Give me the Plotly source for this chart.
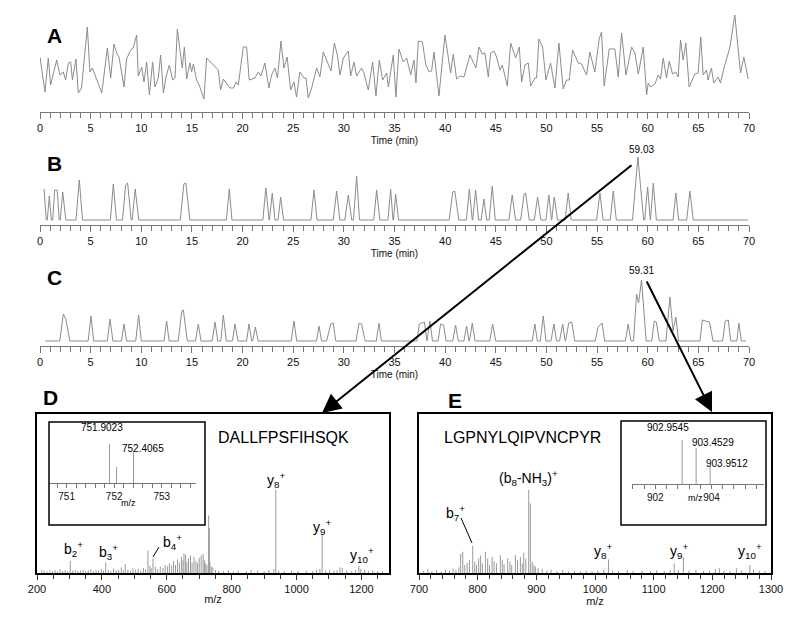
import plotly.graph_objects as go

W, H = 800, 623
OFF = 8  # the page body keeps its default 8 px margin

# ---------------- data ----------------
# A: total ion chromatogram (relative signal)
a_time = [
    0, 0.49, 0.82, 1.05, 1.65, 1.97, 2.3, 2.53, 2.8, 3.03,
    3.2, 3.55, 3.78, 4.1, 4.67, 4.93, 5.17, 5.92, 6.1, 6.65,
    6.98, 7.3, 7.57, 7.8, 8.3, 8.55, 8.95, 9.2, 9.54, 9.7,
    10.04, 10.27, 10.53, 10.8, 11.12, 11.35, 11.68, 11.91, 12.18, 12.44,
    12.77, 13.1, 13.33, 13.56, 13.82, 14.05, 14.25, 14.48, 14.8, 14.97,
    15.14, 15.46, 15.79, 16.19, 16.45, 17.6, 17.83, 18.1, 18.75, 19.1,
    19.35, 19.58, 20.07, 20.4, 20.66, 21.22, 21.55, 21.81, 22.2, 22.6,
    22.86, 23.2, 23.45, 23.79, 24.08, 24.4, 24.74, 25.07, 25.33, 25.66,
    26.06, 26.26, 26.49, 26.82, 27.31, 27.64, 27.97, 28.46, 28.73, 29.06,
    29.36, 29.62, 29.95, 30.44, 30.67, 31.0, 31.26, 31.75, 31.98, 32.41,
    32.84, 33.17, 33.5, 33.83, 34.22, 34.39, 34.88, 35.14, 35.44, 35.87,
    36.2, 36.6, 36.92, 37.12, 37.35, 37.75, 38.1, 38.43, 38.66, 38.9,
    39.39, 39.98, 40.54, 40.8, 41.13, 41.46, 41.86, 42.45, 43.04, 43.34,
    43.67, 43.93, 44.26, 44.49, 44.82, 45.08, 45.41, 45.64, 46.14, 46.47,
    46.96, 47.32, 47.55, 47.88, 48.21, 48.44, 48.87, 49.03, 49.26, 49.62,
    49.95, 50.41, 50.84, 51.23, 51.66, 51.99, 52.25, 52.58, 53.14, 53.47,
    53.96, 54.29, 54.78, 55.21, 55.44, 55.7, 56.2, 56.76, 57.09, 57.42,
    57.85, 58.41, 58.74, 59.07, 59.56, 59.89, 60.05, 60.28, 60.71, 61.04,
    61.27, 61.53, 61.86, 62.12, 62.45, 62.78, 63.01, 63.24, 63.5, 63.76,
    64.09, 64.65, 64.98, 65.24, 65.47, 65.8, 65.96, 66.29, 66.52, 66.95,
    67.18, 67.61, 68.1, 68.6, 69.16, 69.49, 69.92]
a_signal = [
    55, 20, 54, 27, 52, 37, 40, 32, 49, 50,
    32, 53, 19, 24, 85, 40, 44, 22, 19, 64,
    34, 68, 59, 55, 25, 53, 62, 64, 77, 36,
    45, 30, 50, 17, 50, 25, 34, 57, 19, 35,
    47, 32, 34, 83, 62, 44, 65, 33, 49, 40,
    48, 32, 25, 13, 54, 42, 22, 33, 24, 24,
    30, 27, 65, 65, 32, 34, 40, 36, 49, 24,
    37, 44, 34, 71, 44, 55, 22, 30, 15, 40,
    34, 34, 14, 24, 44, 35, 60, 47, 41, 69,
    57, 37, 54, 61, 36, 50, 36, 44, 39, 22,
    50, 16, 52, 32, 39, 25, 57, 15, 63, 50,
    54, 37, 52, 29, 71, 70, 47, 40, 41, 60,
    16, 77, 39, 58, 33, 36, 35, 57, 44, 65,
    58, 59, 35, 59, 61, 55, 42, 47, 26, 69,
    54, 65, 30, 47, 49, 26, 34, 34, 73, 65,
    32, 49, 24, 69, 23, 32, 32, 62, 49, 48,
    37, 60, 40, 73, 80, 26, 63, 63, 35, 79,
    37, 65, 59, 38, 65, 17, 29, 25, 28, 37,
    33, 54, 34, 51, 38, 40, 35, 72, 52, 69,
    25, 38, 39, 75, 37, 42, 32, 44, 29, 35,
    29, 47, 64, 97, 39, 55, 33]

# B: extracted ion chromatogram
b_time = [
    0.4, 0.62, 0.72, 0.92, 1.12, 1.25, 1.45, 1.7, 1.9, 2.0, 2.24, 2.55,
    3.55, 3.88, 4.2, 6.95, 7.24, 7.55, 8.15, 8.45, 8.65, 9.0, 9.1, 9.4, 9.75,
    13.85, 14.2, 14.4, 14.8, 18.4, 18.69, 18.95, 22.0, 22.3, 22.62, 22.65, 22.93, 23.2,
    23.5, 23.76, 24.05, 26.75, 27.05, 27.35, 28.95, 29.29, 29.6, 30.1, 30.44, 30.78,
    30.95, 31.26, 31.55, 32.95, 33.24, 33.55, 34.35, 34.62, 34.85, 34.9, 35.11, 35.4,
    40.4, 40.75, 40.95, 41.35, 42.1, 42.39, 42.68, 42.72, 43.01, 43.3, 43.55, 43.83, 44.1,
    44.35, 44.65, 44.95, 46.3, 46.62, 46.95, 47.45, 47.8, 47.95, 48.3, 48.8, 49.13, 49.45,
    49.95, 50.24, 50.5, 50.52, 50.77, 51.1, 51.85, 52.15, 52.45, 54.95, 55.28, 55.6,
    56.3, 56.6, 56.9, 58.5, 59.03, 59.6, 59.7, 59.99, 60.25, 60.27, 60.55, 60.85,
    62.5, 62.78, 63.05, 63.85, 64.16, 64.5, 69.9]
b_signal = [
    31, 0, 0, 24, 0, 0, 30, 30, 0, 0, 28, 0,
    0, 40, 0, 0, 36, 0, 0, 35, 37, 0, 0, 31, 0,
    0, 36, 37, 0, 0, 31, 0, 0, 32, 0, 0, 27, 0,
    0, 23, 0, 0, 30, 0, 0, 29, 0, 0, 25, 0,
    0, 44, 0, 0, 30, 0, 0, 31, 0, 0, 26, 0,
    0, 28, 29, 0, 0, 31, 0, 0, 30, 0, 0, 21, 0,
    0, 34, 0, 0, 25, 0, 0, 26, 27, 0, 0, 23, 0,
    0, 25, 0, 0, 23, 0, 0, 27, 0, 0, 27, 0,
    0, 29, 0, 0, 63, 0, 0, 33, 0, 0, 37, 0,
    0, 27, 0, 0, 29, 0, 0]

# C: extracted ion chromatogram
c_time = [
    0.5, 1.95, 2.3, 2.55, 2.95, 4.75, 5.04, 5.3, 6.65, 6.91, 7.2,
    8.05, 8.29, 8.55, 9.45, 9.74, 10.0, 12.25, 12.5, 12.75,
    13.65, 14.0, 14.15, 14.55, 15.35, 15.63, 15.9, 17.0, 17.28, 17.55,
    17.85, 18.1, 18.4, 19.0, 19.25, 19.55, 20.4, 20.63, 20.9, 21.0, 21.26, 21.55,
    24.8, 25.07, 25.35, 27.3, 27.55, 27.8, 28.3, 28.7, 28.95, 29.2,
    31.2, 31.5, 31.75, 32.1, 33.2, 33.47, 33.7,
    37.2, 37.45, 37.95, 38.2, 38.5, 38.75, 39.3, 39.55, 39.85, 40.1,
    40.75, 41.03, 41.3, 41.85, 42.12, 42.35, 42.4, 42.68, 42.95, 44.4, 44.69, 45.0,
    48.6, 48.86, 49.1, 49.4, 49.69, 49.95, 50.45, 50.74, 51.0, 51.3, 51.6, 51.85,
    51.9, 52.2, 52.5, 52.8, 54.8, 55.1, 55.5, 55.75, 57.8, 58.07, 58.35,
    58.6, 58.9, 59.1, 59.39, 59.85, 60.4, 60.65, 60.85, 61.15,
    61.8, 62.19, 62.5, 62.78, 63.05, 65.15, 65.4, 65.7, 66.1, 66.45,
    67.4, 67.65, 67.95, 68.2, 68.8, 69.0, 69.25, 69.7]
c_signal = [
    0, 0, 27, 22, 0, 0, 25, 0, 0, 22, 0,
    0, 17, 0, 0, 26, 0, 0, 20, 0,
    0, 30, 31, 0, 0, 17, 0, 0, 19, 0,
    0, 26, 0, 0, 17, 0, 0, 17, 0, 0, 14, 0,
    0, 20, 0, 0, 15, 0, 0, 17, 18, 0,
    0, 18, 17, 0, 0, 18, 0,
    0, 17, 19, 0, 20, 0, 0, 17, 16, 0,
    0, 16, 0, 0, 15, 0, 0, 18, 0, 0, 17, 0,
    0, 17, 0, 0, 25, 0, 0, 17, 0, 0, 17, 0,
    0, 18, 19, 0, 0, 14, 18, 0, 0, 17, 0,
    0, 47, 38, 61, 0, 0, 20, 19, 0,
    0, 44, 10, 24, 0, 0, 21, 20, 19, 0,
    0, 20, 21, 0, 0, 18, 0, 0]

# D: MS/MS spectrum (DALLFPSFIHSQK)
d_mz = [302.6, 411.8, 472, 542, 557.6, 653, 729, 731.5, 936, 1079, 1192]
d_int = [7.5, 6.7, 5.6, 14, 9.2, 12.3, 36, 28, 52, 24, 4.5]
d_noise_mz = [
    215, 222, 231, 240, 248, 256, 263, 271, 279, 287, 295, 310, 318, 326, 334,
    342, 350, 358, 366, 374, 382, 390, 398, 405, 420, 428, 436, 444, 452, 460,
    466, 480, 488, 496, 504, 512, 520, 528, 535, 548, 552, 565, 572, 580, 588,
    595, 602, 608, 615, 621, 627, 633, 639, 645, 650, 658, 662, 667, 673, 678,
    684, 690, 695, 700, 706, 712, 716, 720, 724, 733, 737, 742, 750, 760, 775,
    790, 805, 820, 845, 860, 880, 900, 915, 930, 945, 962, 985, 1005, 1030, 1050,
    1062, 1072, 1090, 1102, 1115, 1125, 1134, 1141, 1155, 1170, 1182, 1198, 1210,
    1222, 1235, 1250, 1265]
d_noise_int = [
    2, 1.5, 1, 2, 1.2, 1.8, 1, 2.5, 1.3, 1.8, 1, 1.5, 2, 1.2, 1.6,
    2.2, 1, 1.8, 2.4, 1.2, 2, 1.5, 2.6, 1.5, 2, 1.2, 2.8, 1.5, 2, 3.5,
    1.6, 2.2, 1.4, 3, 2, 2.6, 1.5, 3.2, 2.4, 4.5, 3, 3.8, 2.5, 4, 3.2,
    5, 4.2, 6, 4.5, 7.5, 5, 8.5, 6.5, 10, 8, 11.5, 7, 9, 11, 6.5,
    10, 7.5, 6, 9.5, 11, 12, 8, 6, 5, 7, 4, 3.5, 2, 1.5, 1.2,
    1.8, 1, 1.5, 1.2, 1.8, 1.5, 1.2, 1.8, 2.5, 1.5, 1.2, 1.6, 1.3, 1.5, 1.2,
    2, 2.5, 1.5, 2, 1.4, 1.8, 3.5, 3, 1.5, 1.2, 1.8, 2.5, 2,
    1.2, 1.8, 1.2, 1]

# E: MS/MS spectrum (LGPNYLQIPVNCPYR)
e_mz = [774.6, 791.6, 801.8, 813.2, 824.6, 838.7, 851.2, 864.3, 872.8, 878.5,
        887, 889.8, 898.3, 1023, 1135, 1150.7, 1264]
e_int = [13.3, 17, 9.2, 13.3, 10, 11.2, 9.2, 11.2, 10, 12.7,
         52, 43.5, 4, 8.5, 6, 9.8, 5]
e_noise_mz = [
    708, 715, 722, 730, 738, 745, 752, 758, 763, 768, 771, 778, 782, 786, 795,
    798, 805, 808, 817, 820, 828, 832, 842, 845, 855, 858, 868, 876, 882, 893,
    896, 903, 910, 918, 925, 935, 945, 955, 965, 975, 985, 995, 1005, 1015, 1030,
    1040, 1055, 1065, 1080, 1095, 1105, 1118, 1128, 1142, 1160, 1172, 1185, 1195,
    1205, 1212, 1220, 1230, 1241, 1250, 1270, 1280, 1290]
e_noise_int = [
    1.5, 2.5, 1.2, 1.8, 1, 2.2, 1.5, 2.8, 2, 3.5, 12, 5, 6.5, 8, 7,
    5, 11, 6, 9, 5, 7.5, 6, 8, 5.5, 7, 5, 8, 6, 9, 7,
    5, 3, 2.5, 1.5, 2, 1.2, 1.8, 1.2, 1.5, 1, 1.4, 1.2, 1.6, 2, 1.5,
    1.2, 1.8, 1.2, 1.5, 1.2, 1.6, 1.3, 1.8, 2, 1.5, 2, 1.2, 1.5,
    2.5, 3, 1.5, 1.2, 3, 1.5, 2, 1.5, 1.2]

# insets: precursor isotope clusters
d_iso_mz = [751.9023, 752.05, 752.4065]
d_iso_int = [39, 16, 32]
e_iso_mz = [902.9545, 903.4529, 903.9512]
e_iso_int = [44, 36, 17.6]


# ---------------- helpers ----------------
def px(x):
    return (x - OFF) / W


def py(y):
    return 1 - (y - OFF) / H


def sticks(mz, inten):
    xs, ys = [], []
    for m, h in zip(mz, inten):
        xs += [m, m, None]
        ys += [0, h, None]
    return xs, ys


FONT = "Liberation Sans, Arial, sans-serif"
NARROW = "Liberation Sans Narrow, Arial Narrow, Liberation Sans, Arial, sans-serif"
TRACE = "#8c8c8c"
AXIS = "#777777"

fig = go.Figure()

fig.add_trace(go.Scatter(x=a_time, y=a_signal, mode="lines", line=dict(color=TRACE, width=1),
                         xaxis="x", yaxis="y"))
fig.add_trace(go.Scatter(x=b_time, y=b_signal, mode="lines", line=dict(color=TRACE, width=1),
                         xaxis="x2", yaxis="y2"))
fig.add_trace(go.Scatter(x=c_time, y=c_signal, mode="lines", line=dict(color=TRACE, width=1),
                         xaxis="x3", yaxis="y3"))

for mz, inten, ax in [(d_noise_mz, d_noise_int, 4), (d_mz, d_int, 4),
                      (e_noise_mz, e_noise_int, 5), (e_mz, e_int, 5),
                      (d_iso_mz, d_iso_int, 6), (e_iso_mz, e_iso_int, 7)]:
    xs, ys = sticks(mz, inten)
    fig.add_trace(go.Scatter(x=xs, y=ys, mode="lines", line=dict(color="#9a9a9a", width=1),
                             xaxis="x%d" % ax, yaxis="y%d" % ax))


def chrom_x(anchor):
    return dict(domain=[px(40), px(749)], range=[0, 70], anchor=anchor, automargin=False,
                showline=True, linecolor=AXIS, linewidth=1,
                ticks="outside", ticklen=6, tickcolor=AXIS, dtick=5, tick0=0,
                minor=dict(dtick=1, ticks="outside", ticklen=5, tickcolor=AXIS),
                showgrid=False, zeroline=False,
                tickfont=dict(family=NARROW, size=11, color="#111"),
                title=dict(text="Time (min)", font=dict(family=NARROW, size=10, color="#111"),
                           standoff=3))


def hidden_y(anchor, bottom, top, rng):
    return dict(domain=[py(bottom), py(top)], range=rng, anchor=anchor, visible=False,
                automargin=False)


def spec_x(anchor, lo, hi, rng, major, minor):
    return dict(domain=[px(lo), px(hi)], range=rng, anchor=anchor, automargin=False,
                showline=True, mirror=True, linecolor="black", linewidth=1.5,
                ticks="outside", ticklen=5, tickcolor="#333", dtick=major, tick0=rng[0],
                minor=dict(dtick=minor, ticks="outside", ticklen=4, tickcolor="#333"),
                showgrid=False, zeroline=False,
                tickfont=dict(family=NARROW, size=11, color="#111"),
                title=dict(text="m/z", font=dict(family=NARROW, size=11, color="#111"), standoff=1))


def spec_y(anchor):
    return dict(domain=[py(573), py(414)], range=[0, 99.4], anchor=anchor, automargin=False,
                showline=True, mirror=True, linecolor="black", linewidth=1.5,
                showticklabels=False, ticks="", showgrid=False, zeroline=False)


def inset_x(anchor, lo, hi, rng, vals, minor, t0):
    return dict(domain=[px(lo), px(hi)], range=rng, anchor=anchor, automargin=False,
                showline=True, linecolor=AXIS, linewidth=1,
                ticks="outside", ticklen=4, tickcolor=AXIS, tickvals=vals,
                minor=dict(dtick=minor, tick0=t0, ticks="outside", ticklen=4, tickcolor=AXIS),
                showgrid=False, zeroline=False,
                tickfont=dict(family=NARROW, size=10, color="#111"))


fig.update_layout(
    width=W, height=H, autosize=False, margin=dict(l=0, r=0, t=0, b=0, pad=0),
    paper_bgcolor="white", plot_bgcolor="white", showlegend=False,
    font=dict(family=FONT, color="black"),
    xaxis=chrom_x("y"), yaxis=hidden_y("x", 112, 12, [0, 100]),
    xaxis2=chrom_x("y2"), yaxis2=hidden_y("x2", 225, 150, [-5, 70]),
    xaxis3=chrom_x("y3"), yaxis3=hidden_y("x3", 346, 271, [-5, 70]),
    xaxis4=spec_x("y4", 37, 389, [200, 1285], 200, 50), yaxis4=spec_y("x4"),
    xaxis5=spec_x("y5", 419, 771, [700, 1300], 100, 20), yaxis5=spec_y("x5"),
    xaxis6=inset_x("y6", 49, 196, [750.63, 753.72], [751, 752, 753], 0.2, 751),
    yaxis6=hidden_y("x6", 483, 425, [0, 58]),
    xaxis7=inset_x("y7", 632, 764, [901.17, 905.87], [902, 904], 0.4, 902),
    yaxis7=hidden_y("x7", 484, 424, [0, 60]),
)

shapes = [
    dict(type="rect", xref="paper", yref="paper", x0=px(49), x1=px(205), y0=py(525), y1=py(422),
         line=dict(color="black", width=1.5)),
    dict(type="rect", xref="paper", yref="paper", x0=px(621), x1=px(766), y0=py(525), y1=py(421),
         line=dict(color="black", width=1.5)),
    # leader lines for b4+ and b7+
    dict(type="line", xref="paper", yref="paper", x0=px(153), y0=py(557), x1=px(159), y1=py(547),
         line=dict(color="black", width=1)),
    dict(type="line", xref="paper", yref="paper", x0=px(461), y0=py(518), x1=px(472), y1=py(543),
         line=dict(color="black", width=1)),
]
fig.update_layout(shapes=shapes)


def label(x, y, text, size, family=FONT):
    return dict(x=px(x), y=py(y), xref="paper", yref="paper", text=text, showarrow=False,
                xanchor="center", yanchor="middle",
                font=dict(family=family, size=size, color="black"))


ann = [
    label(54, 35, "<b>A</b>", 21),
    label(54, 163, "<b>B</b>", 21),
    label(54, 277, "<b>C</b>", 21),
    label(50, 397, "<b>D</b>", 21),
    label(455, 400, "<b>E</b>", 21),
    label(641, 149, "59.03", 10, NARROW),
    label(641, 270, "59.31", 10, NARROW),
    label(283, 437, "DALLFPSFIHSQK", 16),
    label(522, 437, "LGPNYLQIPVNCPYR", 16),
    label(102, 427, "751.9023", 10, NARROW),
    label(143, 448, "752.4065", 10, NARROW),
    label(128, 503, "m/z", 9, NARROW),
    label(668, 427, "902.9545", 10, NARROW),
    label(713, 442, "903.4529", 10, NARROW),
    label(727, 463, "903.9512", 10, NARROW),
    label(695, 498, "m/z", 9, NARROW),
    label(73, 549, "b<sub>2</sub><sup>+</sup>", 14),
    label(108, 552, "b<sub>3</sub><sup>+</sup>", 14),
    label(172, 542, "b<sub>4</sub><sup>+</sup>", 14),
    label(276, 480, "y<sub>8</sub><sup>+</sup>", 14),
    label(322, 527, "y<sub>9</sub><sup>+</sup>", 14),
    label(362, 555, "y<sub>10</sub><sup>+</sup>", 14),
    label(455, 513, "b<sub>7</sub><sup>+</sup>", 14),
    label(528, 478, "(b<sub>8</sub>-NH<sub>3</sub>)<sup>+</sup>", 14),
    label(603, 551, "y<sub>8</sub><sup>+</sup>", 14),
    label(679, 551, "y<sub>9</sub><sup>+</sup>", 14),
    label(750, 551, "y<sub>10</sub><sup>+</sup>", 14),
    # arrows from chromatogram peaks to spectra
    dict(x=px(322), y=py(413), xref="paper", yref="paper", ax=311, ay=-249,
         axref="pixel", ayref="pixel", text="", showarrow=True, arrowhead=2,
         arrowsize=1.9, arrowwidth=2, arrowcolor="black"),
    dict(x=px(712), y=py(412), xref="paper", yref="paper", ax=-66, ay=-132,
         axref="pixel", ayref="pixel", text="", showarrow=True, arrowhead=2,
         arrowsize=1.9, arrowwidth=2, arrowcolor="black"),
]
fig.update_layout(annotations=ann)

fig.write_html("out.html")
